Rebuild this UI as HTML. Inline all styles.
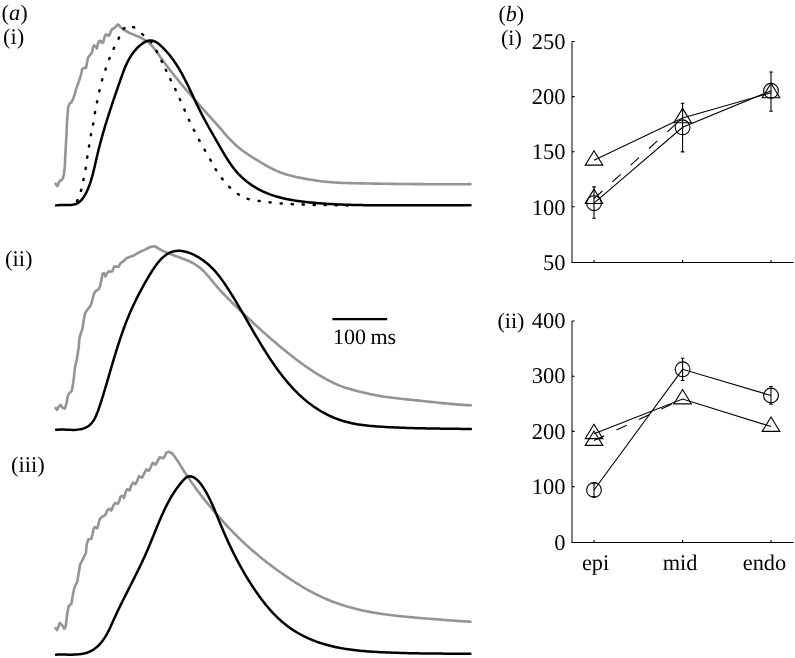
<!DOCTYPE html>
<html><head><meta charset="utf-8"><title>figure</title>
<style>
html,body{margin:0;padding:0;background:#fff;}
body{width:795px;height:658px;overflow:hidden;}
svg{display:block;will-change:transform;}
text{font-family:"Liberation Serif",serif;fill:#000;text-rendering:geometricPrecision;}
</style></head><body>
<svg width="795" height="658" viewBox="0 0 795 658">
<rect width="795" height="658" fill="#fff"/>

<g fill="none" stroke-linejoin="round" stroke-linecap="round">
<path d="M55.6 183.7 L56.1 184.8 L57.5 186 L58.6 183.2 L59.7 181 L61.6 180 L62.9 178.2 L64.1 173.7 L64.8 166.8 L65.3 155 L66.3 137.6 L67 121.6 L68.1 107.8 L69.2 104 L71.3 102.4 L72.9 99.3 L74.5 95 L75.8 90 L78.5 82.6 L80.6 76.2 L82.2 69.3 L83.8 67.9 L85.9 67.9 L87 62.9 L88.1 57.5 L89.6 55.6 L91.8 52.8 L93.2 46.8 L94.3 45.4 L95.7 46.8 L96.8 48.4 L98.1 43.5 L99.2 41.1 L100.6 40.8 L102.2 43 L103.3 42.2 L104.4 37.5 L105.5 34.8 L106.9 34.5 L108.2 35.9 L109.6 35 L111 30.9 L112.1 29.3 L114.3 27.9 L115.9 26.6 L117.5 24.6 L118.6 24.9" stroke="#949494" stroke-width="2.6"/>
<path d="M118.6 24.9 L119.93 26.46 L121.39 27.86 L122.95 29.11 L124.59 30.24 L126.32 31.27 L128.11 32.2 L129.94 33.06 L131.81 33.88 L133.7 34.66 L135.6 35.43 L137.48 36.21 L139.34 37.02 L141.16 37.87 L142.93 38.79 L144.64 39.78 L146.29 40.84 L147.88 41.99 L149.38 43.24 L150.8 44.59 L152.14 46.04 L153.43 47.56 L154.67 49.14 L155.87 50.76 L157.05 52.42 L158.22 54.08 L159.4 55.74 L160.58 57.39 L161.77 59.04 L162.97 60.68 L164.18 62.31 L165.39 63.94 L166.6 65.56 L167.83 67.17 L169.06 68.78 L170.3 70.38 L171.54 71.97 L172.79 73.56 L174.04 75.14 L175.3 76.72 L176.57 78.3 L177.84 79.86 L179.11 81.42 L180.4 82.98 L181.68 84.53 L182.98 86.08 L184.27 87.62 L185.58 89.16 L186.88 90.69 L188.2 92.22 L189.51 93.74 L190.83 95.26 L192.16 96.78 L193.49 98.29 L194.82 99.8 L196.16 101.31 L197.5 102.81 L198.84 104.32 L200.18 105.82 L201.53 107.32 L202.87 108.82 L204.22 110.32 L205.57 111.82 L206.92 113.32 L208.26 114.82 L209.61 116.32 L210.96 117.83 L212.3 119.34 L213.65 120.84 L214.99 122.36 L216.32 123.87 L217.66 125.39 L218.99 126.91 L220.32 128.44 L221.65 129.97 L222.97 131.51 L224.3 133.03 L225.64 134.56 L226.98 136.07 L228.34 137.57 L229.71 139.05 L231.09 140.51 L232.5 141.94 L233.93 143.35 L235.39 144.73 L236.88 146.07 L238.4 147.37 L239.95 148.63 L241.54 149.86 L243.14 151.06 L244.78 152.23 L246.43 153.38 L248.11 154.5 L249.8 155.6 L251.5 156.69 L253.22 157.77 L254.94 158.84 L256.68 159.9 L258.41 160.96 L260.16 162.01 L261.91 163.05 L263.66 164.08 L265.42 165.09 L267.2 166.08 L268.98 167.05 L270.77 167.99 L272.58 168.9 L274.39 169.78 L276.22 170.62 L278.07 171.42 L279.93 172.17 L281.81 172.89 L283.7 173.55 L285.6 174.18 L287.52 174.76 L289.45 175.31 L291.4 175.83 L293.35 176.31 L295.31 176.77 L297.28 177.21 L299.25 177.62 L301.23 178.01 L303.22 178.39 L305.21 178.75 L307.2 179.1 L309.19 179.44 L311.19 179.77 L313.18 180.08 L315.18 180.38 L317.18 180.67 L319.19 180.94 L321.19 181.2 L323.2 181.44 L325.2 181.67 L327.21 181.88 L329.22 182.07 L331.23 182.24 L333.24 182.39 L335.26 182.53 L337.27 182.65 L339.28 182.76 L341.3 182.85 L343.31 182.93 L345.33 183 L347.34 183.06 L349.36 183.11 L351.38 183.16 L353.39 183.2 L355.41 183.25 L357.43 183.29 L359.45 183.33 L361.46 183.37 L363.48 183.41 L365.5 183.44 L367.52 183.48 L369.54 183.52 L371.55 183.55 L373.57 183.59 L375.59 183.62 L377.61 183.66 L379.63 183.69 L381.65 183.72 L383.67 183.75 L385.68 183.78 L387.7 183.81 L389.72 183.84 L391.74 183.86 L393.76 183.89 L395.78 183.91 L397.8 183.94 L399.82 183.96 L401.84 183.99 L403.86 184.01 L405.88 184.03 L407.9 184.05 L409.92 184.07 L411.93 184.08 L413.95 184.1 L415.97 184.12 L417.99 184.13 L420.01 184.15 L422.03 184.16 L424.05 184.17 L426.07 184.18 L428.09 184.19 L430.11 184.2 L432.13 184.21 L434.15 184.22 L436.17 184.22 L438.19 184.23 L440.21 184.23 L442.23 184.23 L444.25 184.24 L446.27 184.24 L448.29 184.24 L450.31 184.23 L452.33 184.23 L454.35 184.23 L456.36 184.22 L458.38 184.22 L460.4 184.21 L462.42 184.2 L464.44 184.19 L466.46 184.18 L468.48 184.17 L470.5 184.15" stroke="#949494" stroke-width="2.6"/>
<path d="M55.6 408 L56.9 409.8 L58.7 406.7 L60.5 404.9 L62.9 408 L64.8 408.6 L66.6 403.1 L67.8 395.8 L69.6 392.8 L71.5 391.5 L72.7 386.1 L73.9 377.6 L75.1 366.6 L76.9 359.3 L78.7 347.2 L79.3 339.1 L80.6 333.9 L82.5 328.7 L83.8 319.7 L85.1 313.2 L87.1 310 L90.3 306.1 L91.6 302.8 L92.9 297.7 L94.2 293.1 L96.1 290.6 L98.7 289.3 L100.2 286 L101.3 280.2 L102.6 273.8 L103.9 273.1 L105.5 276.3 L107.1 273.1 L109 271.2 L111 271.8 L112.3 271.2 L114.2 266.6 L116.8 266.6 L118.7 266.6 L120.7 262.8 L123.3 261.5 L126.5 258.2 L129.7 256.9 L133.6 255.6 L135 254.6 L140 251.9 L145.1 249.6 L150.1 247 L154.1 246.2 L157.1 247.5" stroke="#949494" stroke-width="2.6"/>
<path d="M157.11 247.5 L158.77 248.58 L160.48 249.58 L162.24 250.53 L164.03 251.42 L165.86 252.25 L167.72 253.05 L169.6 253.81 L171.5 254.54 L173.42 255.25 L175.35 255.95 L177.28 256.64 L179.2 257.33 L181.13 258.03 L183.04 258.74 L184.94 259.48 L186.81 260.24 L188.66 261.04 L190.48 261.88 L192.27 262.78 L194.01 263.73 L195.71 264.75 L197.35 265.83 L198.94 267 L200.48 268.25 L201.97 269.56 L203.41 270.94 L204.81 272.38 L206.18 273.86 L207.52 275.38 L208.84 276.92 L210.15 278.49 L211.45 280.06 L212.75 281.64 L214.05 283.21 L215.36 284.77 L216.68 286.31 L218.01 287.82 L219.36 289.32 L220.72 290.81 L222.08 292.28 L223.46 293.73 L224.85 295.18 L226.24 296.62 L227.64 298.05 L229.05 299.48 L230.46 300.91 L231.88 302.33 L233.3 303.75 L234.73 305.17 L236.16 306.59 L237.6 308 L239.04 309.41 L240.49 310.81 L241.94 312.22 L243.39 313.62 L244.85 315.01 L246.32 316.41 L247.78 317.8 L249.25 319.18 L250.73 320.56 L252.2 321.94 L253.68 323.31 L255.17 324.68 L256.65 326.05 L258.14 327.41 L259.63 328.76 L261.13 330.11 L262.63 331.46 L264.13 332.8 L265.63 334.14 L267.14 335.47 L268.65 336.79 L270.16 338.11 L271.68 339.43 L273.21 340.74 L274.73 342.04 L276.26 343.34 L277.8 344.64 L279.34 345.92 L280.89 347.21 L282.44 348.48 L284 349.76 L285.56 351.02 L287.13 352.28 L288.7 353.54 L290.29 354.79 L291.87 356.03 L293.47 357.27 L295.07 358.5 L296.67 359.72 L298.29 360.94 L299.91 362.14 L301.54 363.34 L303.18 364.53 L304.82 365.7 L306.48 366.86 L308.14 368.01 L309.81 369.15 L311.49 370.27 L313.18 371.38 L314.87 372.47 L316.58 373.55 L318.3 374.61 L320.02 375.65 L321.76 376.67 L323.5 377.67 L325.26 378.65 L327.02 379.61 L328.8 380.55 L330.59 381.46 L332.39 382.36 L334.2 383.22 L336.02 384.07 L337.85 384.88 L339.7 385.66 L341.57 386.4 L343.45 387.1 L345.35 387.74 L347.27 388.32 L349.2 388.86 L351.15 389.38 L353.1 389.89 L355.05 390.4 L357 390.91 L358.95 391.41 L360.91 391.91 L362.87 392.4 L364.83 392.88 L366.79 393.35 L368.76 393.8 L370.73 394.23 L372.7 394.64 L374.67 395.03 L376.65 395.4 L378.64 395.76 L380.62 396.1 L382.61 396.42 L384.6 396.73 L386.59 397.02 L388.59 397.3 L390.58 397.57 L392.58 397.83 L394.58 398.07 L396.59 398.31 L398.59 398.54 L400.59 398.77 L402.6 398.98 L404.61 399.2 L406.62 399.4 L408.62 399.61 L410.63 399.81 L412.64 400.01 L414.65 400.21 L416.66 400.41 L418.67 400.61 L420.68 400.81 L422.68 401.02 L424.69 401.23 L426.7 401.44 L428.71 401.65 L430.71 401.87 L432.72 402.08 L434.72 402.3 L436.73 402.51 L438.74 402.72 L440.74 402.93 L442.75 403.13 L444.76 403.34 L446.76 403.53 L448.77 403.72 L450.78 403.91 L452.79 404.09 L454.8 404.26 L456.81 404.42 L458.82 404.58 L460.83 404.72 L462.84 404.85 L464.85 404.98 L466.87 405.09 L468.89 405.19 L470.9 405.28" stroke="#949494" stroke-width="2.6"/>
<path d="M55.6 628 L57 630.1 L58.5 626.5 L59.9 622.9 L62.1 625.1 L64.3 628.7 L65.7 626.5 L67.1 615 L68.6 606.3 L71.5 603.5 L72.9 594.8 L74.4 587.6 L77.2 581.8 L78.7 573.2 L80.1 564.5 L83 558.8 L85.9 553 L86.7 544.3 L88.3 539.3 L91.3 538.9 L92.5 534.3 L93.8 528.4 L95 527.2 L97.1 528.4 L98.4 524.3 L99.6 519.2 L101.7 517.2 L105.1 515.1 L107.6 510.1 L109.2 508.8 L111.3 510.5 L113.4 505.5 L115.1 503 L118 503.8 L119.3 500.9 L120.5 496.7 L122.2 495.8 L123.9 497.9 L125.1 494.5 L126 491 L127.5 489 L129.6 490.5 L131.1 486 L133 482.6 L135.6 484.1 L137.2 480.7 L139 476.1 L142.1 477.7 L144 473.9 L146.3 469.3 L148.9 470.8 L150.8 467 L152.7 462.8 L155.4 464.7 L157.3 461.7 L159.6 457.2 L163 458.3 L164.9 456 L166.4 452.6 L169 451.8 L172.1 453.4" stroke="#949494" stroke-width="2.6"/>
<path d="M172.11 453.39 L173.37 454.94 L174.57 456.53 L175.73 458.15 L176.86 459.8 L177.97 461.47 L179.05 463.16 L180.12 464.86 L181.18 466.57 L182.24 468.28 L183.3 469.98 L184.38 471.68 L185.47 473.37 L186.57 475.05 L187.68 476.72 L188.8 478.39 L189.94 480.05 L191.08 481.7 L192.23 483.34 L193.4 484.98 L194.57 486.61 L195.76 488.24 L196.95 489.86 L198.16 491.47 L199.37 493.08 L200.59 494.68 L201.82 496.27 L203.06 497.86 L204.3 499.44 L205.56 501.01 L206.82 502.58 L208.09 504.14 L209.37 505.7 L210.65 507.25 L211.94 508.79 L213.24 510.32 L214.54 511.85 L215.85 513.38 L217.16 514.9 L218.48 516.41 L219.8 517.91 L221.13 519.41 L222.47 520.91 L223.81 522.39 L225.16 523.87 L226.51 525.35 L227.88 526.81 L229.25 528.27 L230.63 529.72 L232.01 531.16 L233.41 532.59 L234.82 534.02 L236.23 535.44 L237.66 536.84 L239.1 538.24 L240.55 539.63 L242 541.01 L243.47 542.38 L244.95 543.75 L246.43 545.1 L247.92 546.45 L249.43 547.78 L250.93 549.11 L252.45 550.43 L253.97 551.74 L255.5 553.05 L257.04 554.34 L258.58 555.63 L260.13 556.9 L261.69 558.17 L263.25 559.43 L264.82 560.68 L266.4 561.93 L267.99 563.16 L269.58 564.39 L271.18 565.61 L272.78 566.82 L274.39 568.02 L276.01 569.21 L277.64 570.39 L279.27 571.57 L280.91 572.73 L282.55 573.89 L284.2 575.04 L285.86 576.18 L287.53 577.31 L289.2 578.43 L290.88 579.55 L292.57 580.65 L294.26 581.74 L295.96 582.83 L297.66 583.9 L299.38 584.96 L301.1 586 L302.83 587.03 L304.57 588.05 L306.31 589.06 L308.07 590.04 L309.83 591.02 L311.6 591.97 L313.38 592.91 L315.16 593.83 L316.96 594.73 L318.76 595.62 L320.58 596.48 L322.4 597.33 L324.23 598.15 L326.07 598.95 L327.92 599.73 L329.78 600.49 L331.65 601.23 L333.53 601.94 L335.41 602.64 L337.31 603.32 L339.21 603.97 L341.11 604.61 L343.03 605.23 L344.95 605.82 L346.87 606.4 L348.8 606.96 L350.74 607.51 L352.68 608.03 L354.63 608.54 L356.58 609.03 L358.54 609.5 L360.5 609.96 L362.46 610.4 L364.43 610.82 L366.4 611.23 L368.37 611.62 L370.35 611.99 L372.33 612.35 L374.31 612.7 L376.29 613.04 L378.27 613.36 L380.26 613.67 L382.25 613.96 L384.24 614.25 L386.23 614.52 L388.22 614.78 L390.22 615.04 L392.21 615.28 L394.21 615.52 L396.21 615.74 L398.21 615.96 L400.21 616.18 L402.21 616.38 L404.21 616.58 L406.22 616.77 L408.22 616.96 L410.22 617.15 L412.23 617.33 L414.23 617.5 L416.24 617.68 L418.24 617.85 L420.25 618.02 L422.25 618.18 L424.26 618.35 L426.26 618.51 L428.27 618.68 L430.28 618.84 L432.28 619 L434.29 619.16 L436.29 619.32 L438.3 619.48 L440.3 619.63 L442.31 619.79 L444.31 619.94 L446.32 620.09 L448.32 620.24 L450.33 620.39 L452.34 620.54 L454.34 620.68 L456.35 620.83 L458.36 620.97 L460.36 621.11 L462.37 621.25 L464.38 621.39 L466.38 621.53 L468.39 621.66 L470.4 621.8" stroke="#949494" stroke-width="2.6"/>
<path d="M77.07 201.1L77.53 200.1M80.94 190.83L81.26 189.77M83.39 180.04L83.61 178.96M85.61 168.94L85.79 167.86M87.22 157.64L87.38 156.56M89.01 146.54L89.19 145.46M90.8 135.24L91 134.16M93.1 124.54L93.3 123.46M94.91 113.14L95.09 112.06M96.99 102.24L97.21 101.16M99.28 91.34L99.52 90.26M101.95 80.33L102.25 79.27M105.42 69.62L105.78 68.58M109.2 59.01L109.6 57.99M113.67 48.8L114.13 47.8M118.55 38.59L119.05 37.61M123.55 28.82L124.45 28.18M133.18 27.13L134.22 27.47M142.28 34.15L143.12 34.85M150.65 41.48L151.35 42.32M156.53 50.92L157.07 51.88M161.56 60.91L162.04 61.89M165.76 69.8L166.24 70.8M170.36 79.21L170.84 80.19M175.17 89.1L175.63 90.1M179.77 99.1L180.23 100.1M184.38 109.6L184.82 110.6M188.87 119.8L189.33 120.8M193.85 129.81L194.35 130.79M199.04 139.82L199.56 140.78M204.53 149.72L205.07 150.68M210.23 159.62L210.77 160.58M215.61 169.23L216.19 170.17M221.96 178.37L222.64 179.23M229.2 186.92L230 187.68M237.93 194.01L238.87 194.59M247.68 198.83L248.72 199.17M258.56 200.92L259.64 201.08M269.55 202.34L270.65 202.46M280.65 203.46L281.75 203.54M291.75 204.07L292.85 204.13M302.65 204.58L303.75 204.62M313.65 204.89L314.75 204.91M324.65 205.09L325.75 205.11M335.65 205.29L336.75 205.31M346.65 205.4L347.75 205.4" stroke="#000" stroke-width="2.5" stroke-linecap="round"/>
<path d="M56.04 205.37 L57.96 205.14 L59.94 205.02 L61.95 204.98 L64 204.99 L66.06 205.02 L68.12 205.04 L70.16 205 L72.16 204.85 L74.06 204.54 L75.86 204.01 L77.52 203.23 L79.06 202.22 L80.49 201.01 L81.8 199.63 L83.01 198.09 L84.13 196.44 L85.17 194.68 L86.13 192.85 L87.03 190.97 L87.86 189.07 L88.64 187.16 L89.38 185.24 L90.06 183.31 L90.71 181.38 L91.32 179.44 L91.89 177.49 L92.44 175.54 L92.96 173.58 L93.45 171.63 L93.93 169.67 L94.4 167.7 L94.85 165.74 L95.29 163.78 L95.73 161.81 L96.18 159.85 L96.62 157.89 L97.08 155.94 L97.54 153.98 L98.01 152.03 L98.49 150.08 L98.98 148.14 L99.48 146.19 L99.99 144.25 L100.51 142.32 L101.03 140.38 L101.56 138.45 L102.1 136.52 L102.64 134.59 L103.19 132.66 L103.75 130.74 L104.32 128.82 L104.89 126.9 L105.47 124.98 L106.05 123.06 L106.64 121.14 L107.24 119.23 L107.84 117.32 L108.45 115.41 L109.06 113.5 L109.67 111.59 L110.29 109.68 L110.92 107.77 L111.54 105.87 L112.18 103.97 L112.81 102.06 L113.45 100.16 L114.09 98.26 L114.74 96.35 L115.39 94.45 L116.04 92.55 L116.69 90.65 L117.35 88.75 L118 86.85 L118.66 84.95 L119.32 83.05 L119.99 81.15 L120.65 79.25 L121.31 77.35 L121.99 75.46 L122.67 73.57 L123.37 71.68 L124.09 69.81 L124.84 67.95 L125.63 66.1 L126.44 64.27 L127.3 62.46 L128.21 60.67 L129.17 58.91 L130.18 57.18 L131.26 55.47 L132.4 53.8 L133.62 52.16 L134.91 50.56 L136.28 48.99 L137.74 47.47 L139.28 46.01 L140.9 44.64 L142.57 43.39 L144.28 42.32 L146.02 41.45 L147.77 40.82 L149.52 40.48 L151.26 40.45 L152.96 40.76 L154.64 41.37 L156.28 42.24 L157.89 43.31 L159.45 44.55 L160.98 45.89 L162.47 47.31 L163.92 48.75 L165.32 50.23 L166.69 51.73 L168.02 53.25 L169.31 54.8 L170.57 56.37 L171.79 57.97 L172.99 59.59 L174.15 61.22 L175.28 62.88 L176.39 64.55 L177.46 66.24 L178.52 67.95 L179.55 69.67 L180.56 71.41 L181.55 73.16 L182.52 74.92 L183.47 76.69 L184.41 78.48 L185.33 80.27 L186.24 82.07 L187.14 83.87 L188.02 85.69 L188.9 87.51 L189.77 89.33 L190.64 91.15 L191.5 92.98 L192.36 94.81 L193.21 96.64 L194.07 98.47 L194.93 100.29 L195.79 102.11 L196.65 103.93 L197.52 105.74 L198.4 107.55 L199.29 109.35 L200.18 111.14 L201.09 112.93 L202 114.7 L202.93 116.47 L203.86 118.24 L204.8 120 L205.75 121.75 L206.7 123.5 L207.67 125.25 L208.63 126.99 L209.61 128.74 L210.59 130.48 L211.57 132.21 L212.56 133.95 L213.55 135.69 L214.55 137.43 L215.54 139.17 L216.55 140.91 L217.55 142.66 L218.55 144.41 L219.56 146.16 L220.57 147.91 L221.58 149.66 L222.6 151.41 L223.63 153.16 L224.67 154.9 L225.73 156.63 L226.8 158.34 L227.89 160.04 L229 161.73 L230.13 163.39 L231.29 165.04 L232.47 166.66 L233.68 168.25 L234.93 169.82 L236.21 171.35 L237.53 172.85 L238.88 174.31 L240.27 175.74 L241.71 177.13 L243.18 178.48 L244.69 179.79 L246.23 181.06 L247.8 182.29 L249.41 183.48 L251.05 184.64 L252.71 185.75 L254.41 186.82 L256.12 187.85 L257.87 188.85 L259.63 189.8 L261.42 190.71 L263.23 191.58 L265.06 192.4 L266.9 193.19 L268.76 193.93 L270.64 194.64 L272.52 195.3 L274.42 195.92 L276.34 196.51 L278.26 197.06 L280.19 197.57 L282.13 198.05 L284.09 198.51 L286.05 198.93 L288.01 199.33 L289.99 199.7 L291.97 200.05 L293.96 200.37 L295.95 200.68 L297.94 200.97 L299.94 201.24 L301.93 201.49 L303.93 201.74 L305.94 201.97 L307.94 202.19 L309.94 202.4 L311.94 202.6 L313.94 202.79 L315.95 202.97 L317.95 203.15 L319.95 203.31 L321.95 203.47 L323.96 203.61 L325.96 203.75 L327.97 203.88 L329.97 204 L331.98 204.12 L333.98 204.23 L335.98 204.33 L337.99 204.42 L340 204.51 L342 204.59 L344.01 204.67 L346.01 204.74 L348.02 204.8 L350.02 204.86 L352.03 204.91 L354.04 204.96 L356.04 205.01 L358.05 205.05 L360.06 205.09 L362.07 205.12 L364.07 205.15 L366.08 205.17 L368.09 205.19 L370.09 205.21 L372.1 205.23 L374.11 205.24 L376.12 205.26 L378.13 205.27 L380.13 205.28 L382.14 205.28 L384.15 205.29 L386.16 205.3 L388.17 205.3 L390.17 205.3 L392.18 205.31 L394.19 205.31 L396.2 205.31 L398.21 205.31 L400.21 205.31 L402.22 205.32 L404.23 205.32 L406.24 205.32 L408.25 205.32 L410.26 205.31 L412.26 205.31 L414.27 205.31 L416.28 205.31 L418.29 205.31 L420.3 205.31 L422.31 205.31 L424.31 205.3 L426.32 205.3 L428.33 205.3 L430.34 205.3 L432.35 205.3 L434.36 205.29 L436.36 205.29 L438.37 205.29 L440.38 205.29 L442.39 205.29 L444.4 205.29 L446.4 205.29 L448.41 205.29 L450.42 205.29 L452.43 205.29 L454.44 205.29 L456.44 205.29 L458.45 205.29 L460.46 205.3 L462.47 205.3 L464.48 205.3 L466.48 205.31 L468.49 205.31 L470.5 205.32" stroke="#000" stroke-width="2.5"/>
<path d="M56.15 429.81 L58.09 429.63 L60.06 429.54 L62.05 429.54 L64.07 429.59 L66.1 429.67 L68.14 429.77 L70.18 429.85 L72.22 429.9 L74.24 429.9 L76.25 429.81 L78.22 429.63 L80.17 429.34 L82.07 428.91 L83.91 428.34 L85.67 427.63 L87.34 426.75 L88.9 425.71 L90.35 424.48 L91.67 423.08 L92.87 421.51 L93.97 419.81 L94.97 417.99 L95.89 416.09 L96.74 414.12 L97.53 412.12 L98.27 410.1 L98.97 408.09 L99.65 406.11 L100.3 404.16 L100.93 402.24 L101.54 400.33 L102.14 398.44 L102.73 396.56 L103.3 394.68 L103.87 392.81 L104.43 390.93 L105 389.05 L105.56 387.16 L106.12 385.26 L106.68 383.35 L107.24 381.44 L107.8 379.53 L108.36 377.6 L108.92 375.68 L109.48 373.75 L110.04 371.81 L110.61 369.87 L111.18 367.93 L111.75 365.99 L112.32 364.05 L112.9 362.1 L113.48 360.16 L114.06 358.21 L114.65 356.26 L115.24 354.32 L115.84 352.38 L116.44 350.44 L117.04 348.5 L117.66 346.56 L118.27 344.63 L118.9 342.7 L119.53 340.78 L120.16 338.86 L120.81 336.94 L121.46 335.04 L122.12 333.14 L122.79 331.24 L123.46 329.36 L124.15 327.48 L124.84 325.61 L125.54 323.75 L126.26 321.9 L126.98 320.06 L127.71 318.23 L128.45 316.41 L129.21 314.6 L129.97 312.81 L130.75 311.02 L131.54 309.24 L132.34 307.47 L133.15 305.7 L133.98 303.94 L134.82 302.18 L135.67 300.42 L136.54 298.66 L137.43 296.91 L138.33 295.15 L139.24 293.39 L140.17 291.63 L141.12 289.86 L142.08 288.08 L143.07 286.3 L144.06 284.51 L145.08 282.72 L146.12 280.91 L147.17 279.09 L148.25 277.25 L149.34 275.41 L150.46 273.56 L151.6 271.73 L152.76 269.9 L153.96 268.11 L155.18 266.35 L156.42 264.64 L157.71 262.99 L159.02 261.4 L160.37 259.88 L161.75 258.45 L163.18 257.11 L164.64 255.88 L166.15 254.76 L167.69 253.76 L169.29 252.9 L170.92 252.17 L172.61 251.6 L174.35 251.19 L176.13 250.93 L177.94 250.83 L179.79 250.86 L181.67 251.03 L183.56 251.33 L185.47 251.75 L187.39 252.28 L189.3 252.91 L191.21 253.64 L193.1 254.46 L194.98 255.37 L196.83 256.35 L198.66 257.4 L200.44 258.51 L202.18 259.68 L203.87 260.89 L205.51 262.14 L207.09 263.43 L208.63 264.76 L210.13 266.13 L211.58 267.53 L212.99 268.96 L214.36 270.43 L215.7 271.92 L217 273.44 L218.27 274.99 L219.51 276.56 L220.72 278.15 L221.91 279.75 L223.08 281.38 L224.22 283.02 L225.34 284.68 L226.45 286.35 L227.55 288.02 L228.63 289.71 L229.7 291.4 L230.77 293.1 L231.82 294.8 L232.87 296.5 L233.92 298.21 L234.95 299.92 L235.99 301.64 L237.01 303.36 L238.03 305.08 L239.05 306.8 L240.07 308.53 L241.08 310.26 L242.08 311.99 L243.09 313.72 L244.09 315.45 L245.09 317.19 L246.09 318.92 L247.09 320.66 L248.09 322.39 L249.09 324.13 L250.09 325.86 L251.1 327.6 L252.1 329.33 L253.1 331.07 L254.11 332.8 L255.12 334.53 L256.14 336.26 L257.16 337.98 L258.18 339.71 L259.21 341.43 L260.24 343.15 L261.28 344.86 L262.33 346.58 L263.38 348.28 L264.44 349.99 L265.51 351.69 L266.59 353.39 L267.67 355.08 L268.76 356.76 L269.87 358.44 L270.98 360.12 L272.1 361.79 L273.24 363.45 L274.38 365.11 L275.54 366.76 L276.71 368.4 L277.89 370.03 L279.08 371.65 L280.29 373.26 L281.51 374.86 L282.75 376.44 L284 378.02 L285.26 379.58 L286.54 381.12 L287.83 382.65 L289.14 384.17 L290.47 385.67 L291.81 387.15 L293.17 388.62 L294.55 390.07 L295.95 391.49 L297.36 392.9 L298.79 394.29 L300.24 395.66 L301.71 397.01 L303.2 398.33 L304.72 399.63 L306.25 400.91 L307.8 402.16 L309.37 403.39 L310.97 404.59 L312.59 405.77 L314.23 406.92 L315.89 408.04 L317.58 409.13 L319.29 410.19 L321.02 411.23 L322.77 412.23 L324.54 413.2 L326.33 414.14 L328.14 415.04 L329.96 415.91 L331.8 416.75 L333.65 417.55 L335.52 418.31 L337.4 419.03 L339.29 419.72 L341.2 420.37 L343.11 420.98 L345.03 421.54 L346.96 422.07 L348.9 422.56 L350.84 423.01 L352.79 423.43 L354.75 423.82 L356.72 424.17 L358.69 424.5 L360.66 424.8 L362.64 425.07 L364.63 425.32 L366.61 425.55 L368.61 425.76 L370.6 425.95 L372.6 426.12 L374.6 426.28 L376.6 426.43 L378.61 426.57 L380.61 426.69 L382.62 426.81 L384.62 426.92 L386.63 427.03 L388.64 427.14 L390.64 427.24 L392.65 427.33 L394.65 427.42 L396.66 427.51 L398.67 427.59 L400.67 427.67 L402.68 427.75 L404.68 427.82 L406.69 427.89 L408.7 427.95 L410.7 428.01 L412.71 428.07 L414.71 428.13 L416.72 428.18 L418.73 428.23 L420.73 428.28 L422.74 428.32 L424.75 428.37 L426.75 428.41 L428.76 428.45 L430.77 428.48 L432.77 428.52 L434.78 428.55 L436.79 428.58 L438.79 428.61 L440.8 428.64 L442.81 428.67 L444.81 428.7 L446.82 428.72 L448.82 428.75 L450.83 428.77 L452.84 428.8 L454.85 428.82 L456.85 428.84 L458.86 428.86 L460.87 428.89 L462.87 428.91 L464.88 428.93 L466.89 428.96 L468.89 428.98 L470.9 429" stroke="#000" stroke-width="2.5"/>
<path d="M56.06 654.64 L58 654.57 L59.97 654.55 L61.96 654.55 L63.97 654.57 L65.99 654.6 L68.02 654.63 L70.05 654.65 L72.08 654.64 L74.11 654.59 L76.12 654.51 L78.12 654.36 L80.09 654.15 L82.05 653.86 L83.97 653.49 L85.85 653.02 L87.7 652.44 L89.5 651.74 L91.25 650.9 L92.95 649.93 L94.59 648.83 L96.17 647.6 L97.69 646.26 L99.14 644.82 L100.53 643.31 L101.85 641.72 L103.09 640.08 L104.26 638.4 L105.36 636.69 L106.4 634.94 L107.38 633.18 L108.32 631.39 L109.21 629.58 L110.08 627.77 L110.92 625.94 L111.75 624.1 L112.56 622.27 L113.38 620.43 L114.21 618.6 L115.04 616.78 L115.89 614.96 L116.74 613.14 L117.59 611.33 L118.46 609.52 L119.33 607.72 L120.2 605.92 L121.08 604.12 L121.97 602.33 L122.86 600.54 L123.75 598.75 L124.65 596.96 L125.55 595.18 L126.45 593.39 L127.35 591.61 L128.25 589.83 L129.16 588.04 L130.06 586.26 L130.96 584.48 L131.87 582.7 L132.77 580.91 L133.67 579.13 L134.57 577.34 L135.46 575.55 L136.35 573.76 L137.24 571.97 L138.13 570.17 L139 568.37 L139.88 566.57 L140.75 564.76 L141.61 562.95 L142.46 561.14 L143.31 559.32 L144.15 557.5 L144.98 555.67 L145.81 553.83 L146.62 551.99 L147.42 550.15 L148.22 548.29 L149 546.44 L149.78 544.57 L150.55 542.7 L151.32 540.83 L152.08 538.96 L152.84 537.09 L153.6 535.21 L154.35 533.33 L155.11 531.46 L155.87 529.58 L156.63 527.71 L157.4 525.84 L158.17 523.98 L158.95 522.12 L159.73 520.26 L160.53 518.41 L161.33 516.57 L162.15 514.73 L162.98 512.91 L163.82 511.09 L164.68 509.28 L165.55 507.48 L166.44 505.7 L167.35 503.92 L168.28 502.16 L169.23 500.42 L170.21 498.69 L171.2 496.97 L172.23 495.27 L173.27 493.59 L174.35 491.92 L175.45 490.28 L176.58 488.65 L177.74 487.04 L178.94 485.46 L180.17 483.89 L181.43 482.35 L182.72 480.83 L184.06 479.36 L185.46 478.06 L186.95 477.04 L188.54 476.45 L190.24 476.32 L191.99 476.65 L193.74 477.39 L195.46 478.49 L197.11 479.85 L198.65 481.4 L200.07 483.02 L201.37 484.7 L202.57 486.41 L203.69 488.15 L204.76 489.91 L205.79 491.68 L206.79 493.46 L207.75 495.25 L208.68 497.04 L209.59 498.85 L210.47 500.67 L211.33 502.49 L212.16 504.32 L212.98 506.15 L213.78 507.99 L214.57 509.83 L215.34 511.68 L216.11 513.52 L216.87 515.37 L217.62 517.22 L218.38 519.07 L219.13 520.93 L219.88 522.78 L220.64 524.62 L221.41 526.47 L222.19 528.31 L222.97 530.15 L223.76 531.99 L224.55 533.82 L225.35 535.65 L226.17 537.48 L226.99 539.3 L227.81 541.12 L228.65 542.94 L229.49 544.75 L230.35 546.56 L231.21 548.36 L232.08 550.16 L232.96 551.96 L233.85 553.75 L234.75 555.53 L235.66 557.32 L236.58 559.09 L237.5 560.86 L238.44 562.63 L239.39 564.39 L240.35 566.15 L241.32 567.9 L242.3 569.64 L243.3 571.38 L244.3 573.12 L245.32 574.84 L246.34 576.57 L247.38 578.28 L248.43 579.99 L249.49 581.69 L250.57 583.39 L251.66 585.07 L252.76 586.76 L253.87 588.43 L255 590.1 L256.13 591.76 L257.29 593.41 L258.45 595.05 L259.63 596.69 L260.83 598.32 L262.04 599.93 L263.26 601.53 L264.5 603.12 L265.76 604.7 L267.04 606.26 L268.34 607.8 L269.65 609.33 L270.98 610.83 L272.34 612.32 L273.71 613.78 L275.11 615.22 L276.53 616.64 L277.97 618.04 L279.43 619.4 L280.92 620.75 L282.43 622.06 L283.97 623.34 L285.53 624.59 L287.11 625.82 L288.73 627.01 L290.36 628.17 L292.02 629.3 L293.69 630.4 L295.39 631.46 L297.11 632.5 L298.84 633.5 L300.59 634.48 L302.36 635.42 L304.15 636.32 L305.94 637.2 L307.75 638.05 L309.58 638.86 L311.41 639.64 L313.26 640.39 L315.11 641.11 L316.98 641.8 L318.85 642.45 L320.74 643.08 L322.63 643.68 L324.54 644.26 L326.45 644.8 L328.37 645.32 L330.29 645.82 L332.23 646.29 L334.17 646.73 L336.12 647.16 L338.07 647.56 L340.03 647.94 L342 648.3 L343.97 648.64 L345.95 648.96 L347.93 649.26 L349.92 649.54 L351.91 649.81 L353.91 650.06 L355.91 650.29 L357.91 650.51 L359.91 650.71 L361.92 650.91 L363.93 651.08 L365.95 651.25 L367.96 651.41 L369.98 651.55 L371.99 651.69 L374.01 651.81 L376.03 651.93 L378.05 652.04 L380.07 652.15 L382.08 652.25 L384.1 652.34 L386.12 652.43 L388.13 652.51 L390.14 652.59 L392.16 652.67 L394.17 652.74 L396.18 652.81 L398.19 652.87 L400.2 652.93 L402.2 652.99 L404.21 653.05 L406.22 653.1 L408.22 653.15 L410.23 653.19 L412.23 653.23 L414.24 653.27 L416.24 653.31 L418.25 653.35 L420.25 653.38 L422.25 653.41 L424.26 653.44 L426.26 653.47 L428.26 653.49 L430.27 653.51 L432.27 653.53 L434.27 653.55 L436.28 653.57 L438.28 653.59 L440.28 653.6 L442.29 653.62 L444.29 653.63 L446.3 653.65 L448.31 653.66 L450.31 653.67 L452.32 653.68 L454.33 653.69 L456.34 653.7 L458.35 653.71 L460.36 653.72 L462.37 653.73 L464.38 653.74 L466.4 653.75 L468.41 653.77 L470.43 653.78" stroke="#000" stroke-width="2.5"/>
</g>
<path d="M332.4 319.2 H387.2" stroke="#000" stroke-width="2.3"/>
<text x="1.5" y="20.2" font-size="22.5">(<tspan font-style="italic">a</tspan>)</text>
<text x="3" y="44.2" font-size="22.5">(i)</text>
<text x="5" y="266" font-size="22.5">(ii)</text>
<text x="11" y="471.6" font-size="22.5">(iii)</text>
<text x="333" y="344.2" font-size="22">100<tspan dx="-1"> </tspan>ms</text>
<text x="498.5" y="20.5" font-size="22">(<tspan font-style="italic">b</tspan>)</text>
<text x="501" y="44.7" font-size="22">(i)</text>
<text x="497.5" y="327.5" font-size="22">(ii)</text>
<text x="565.5" y="49.2" font-size="22.5" text-anchor="end">250</text>
<text x="565.5" y="104.3" font-size="22.5" text-anchor="end">200</text>
<text x="565.5" y="159.4" font-size="22.5" text-anchor="end">150</text>
<text x="565.5" y="214.5" font-size="22.5" text-anchor="end">100</text>
<text x="565.5" y="270.2" font-size="22.5" text-anchor="end">50</text>
<text x="565.5" y="328.2" font-size="22.5" text-anchor="end">400</text>
<text x="565.5" y="383.4" font-size="22.5" text-anchor="end">300</text>
<text x="565.5" y="438.6" font-size="22.5" text-anchor="end">200</text>
<text x="565.5" y="493.8" font-size="22.5" text-anchor="end">100</text>
<text x="565.5" y="549.7" font-size="22.5" text-anchor="end">0</text>
<text x="595.5" y="569.6" font-size="22.3" text-anchor="middle">epi</text>
<text x="680" y="569.6" font-size="22.3" text-anchor="middle">mid</text>
<text x="764.5" y="569.6" font-size="22.3" text-anchor="middle">endo</text>
<g fill="none" stroke="#000" stroke-width="1.1">
<path d="M572 41.5 V262.5" stroke-width="1"/>
<path d="M571.5 262.5 H793.6 M572 41.5 H574.6 M572 96.6 H574.6 M572 151.7 H574.6 M572 206.8 H574.6 M594 262.5 V259.9 M682.6 262.5 V259.9 M771 262.5 V259.9"/>
<path d="M572 321 V542.5" stroke-width="1"/>
<path d="M571.5 542.5 H793.6 M572 321 H574.6 M572 376.2 H574.6 M572 431.4 H574.6 M572 486.6 H574.6 M594 542.5 V539.9 M682.6 542.5 V539.9 M771 542.5 V539.9"/>
</g>
<g fill="none" stroke="#000" stroke-width="1.1">
<path d="M594 160.2 L682.6 117.9 L771 92.8"/>
<path d="M594 203.2 L682.6 127.3 L771 90.8"/>
<path d="M594 198.6 L682.6 117.9" stroke-dasharray="11.3 13.5"/>
<path d="M594 150.7 L585.2 165.1 L602.8 165.1 Z"/>
<path d="M682.6 108.4 L673.8 122.8 L691.4 122.8 Z"/>
<path d="M771 83.3 L762.2 97.7 L779.8 97.7 Z"/>
<path d="M594 189.1 L585.2 203.5 L602.8 203.5 Z"/>
<circle cx="594" cy="203.2" r="7.4"/>
<circle cx="682.6" cy="127.3" r="7.4"/>
<circle cx="771" cy="90.8" r="7.4"/>
<path d="M594 186.9 V218.2 M592.2 186.9 H595.8 M592.2 218.2 H595.8"/>
<path d="M682.6 103.2 V151.9 M680.8 103.2 H684.4 M680.8 151.9 H684.4"/>
<path d="M771 72 V111.3 M769.2 72 H772.8 M769.2 111.3 H772.8"/>
</g>
<g fill="none" stroke="#000" stroke-width="1.1">
<path d="M594 433.7 L682.6 399 L771 426.5"/>
<path d="M594 490 L682.6 369.3 L771 395.5"/>
<path d="M594 440.5 L682.6 399" stroke-dasharray="11.3 13.5"/>
<path d="M594 424.2 L585.2 438.6 L602.8 438.6 Z"/>
<path d="M682.6 389.5 L673.8 403.9 L691.4 403.9 Z"/>
<path d="M771 417 L762.2 431.4 L779.8 431.4 Z"/>
<path d="M594 431 L585.2 445.4 L602.8 445.4 Z"/>
<circle cx="594" cy="490" r="7.4"/>
<circle cx="682.6" cy="369.3" r="7.4"/>
<circle cx="771" cy="395.5" r="7.4"/>
<path d="M594 483.7 V496.6 M592.2 483.7 H595.8 M592.2 496.6 H595.8"/>
<path d="M682.6 358.3 V380.5 M680.8 358.3 H684.4 M680.8 380.5 H684.4"/>
<path d="M771 386.5 V404.2 M769.2 386.5 H772.8 M769.2 404.2 H772.8"/>
</g>
</svg>
</body></html>
